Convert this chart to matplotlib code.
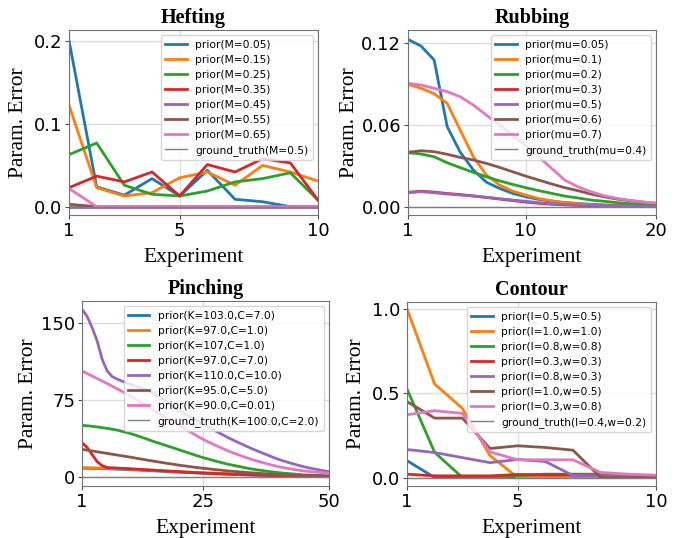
import matplotlib
matplotlib.use("Agg")
import matplotlib.pyplot as plt

# ---- Hefting (10 experiments) ----
heft_x = list(range(1, 11))
heft_labels = ["prior(M=0.05)", "prior(M=0.15)", "prior(M=0.25)", "prior(M=0.35)",
               "prior(M=0.45)", "prior(M=0.55)", "prior(M=0.65)"]
heft_m005 = [0.201, 0.024, 0.014, 0.034, 0.013, 0.044, 0.009, 0.006, 0.0, 0.0]
heft_m015 = [0.123, 0.023, 0.013, 0.017, 0.035, 0.042, 0.026, 0.050, 0.042, 0.031]
heft_m025 = [0.063, 0.077, 0.026, 0.015, 0.013, 0.019, 0.030, 0.034, 0.041, 0.008]
heft_m035 = [0.023, 0.037, 0.030, 0.042, 0.013, 0.051, 0.042, 0.058, 0.053, 0.008]
heft_m045 = [0.0, 0.0, 0.0, 0.0, 0.0, 0.0, 0.0, 0.0, 0.0, 0.0]
heft_m055 = [0.003, 0.0, 0.0, 0.0, 0.0, 0.0, 0.0, 0.0, 0.0, 0.0]
heft_m065 = [0.022, 0.0, 0.0, 0.0, 0.0, 0.0, 0.0, 0.0, 0.0, 0.0]
heft_gt_label = "ground_truth(M=0.5)"

# ---- Rubbing (20 experiments) ----
rub_x = list(range(1, 21))
rub_labels = ["prior(mu=0.05)", "prior(mu=0.1)", "prior(mu=0.2)", "prior(mu=0.3)",
              "prior(mu=0.5)", "prior(mu=0.6)", "prior(mu=0.7)"]
rub_mu005 = [0.1229, 0.118, 0.1078, 0.0588, 0.040, 0.027, 0.018, 0.0135, 0.0098, 0.0073,
             0.0054, 0.004, 0.003, 0.0024, 0.0018, 0.0013, 0.001, 0.0007, 0.0005, 0.0003]
rub_mu01 = [0.0899, 0.087, 0.083, 0.0759, 0.0563, 0.0367, 0.0233, 0.016, 0.0115, 0.0086,
            0.006, 0.0044, 0.003, 0.0022, 0.0015, 0.0011, 0.0008, 0.0006, 0.0004, 0.0003]
rub_mu02 = [0.0397, 0.0387, 0.0367, 0.0323, 0.0287, 0.0252, 0.022, 0.019, 0.0164, 0.014,
            0.0118, 0.0098, 0.0078, 0.0064, 0.0049, 0.004, 0.003, 0.0022, 0.0017, 0.0012]
rub_mu03 = [0.0106, 0.0113, 0.0107, 0.0097, 0.0089, 0.0079, 0.0068, 0.0056, 0.0045, 0.0034,
            0.0025, 0.0018, 0.0013, 0.0009, 0.0007, 0.0005, 0.0004, 0.0003, 0.0002, 0.0002]
rub_mu05 = [0.0103, 0.011, 0.0103, 0.0093, 0.0086, 0.0078, 0.0069, 0.0059, 0.0049, 0.004,
            0.003, 0.0022, 0.0017, 0.0012, 0.001, 0.0008, 0.0006, 0.0005, 0.0004, 0.0003]
rub_mu06 = [0.040, 0.0411, 0.0404, 0.0385, 0.0362, 0.0343, 0.0318, 0.0289, 0.0257, 0.0225,
            0.0196, 0.0167, 0.014, 0.0118, 0.0093, 0.0073, 0.0056, 0.0044, 0.0034, 0.0024]
rub_mu07 = [0.0906, 0.0894, 0.087, 0.0845, 0.0808, 0.0747, 0.0673, 0.060, 0.0527, 0.0453,
            0.0367, 0.0282, 0.0196, 0.0147, 0.011, 0.0081, 0.0061, 0.0047, 0.0034, 0.0027]
rub_gt_label = "ground_truth(mu=0.4)"

# ---- Pinching (50 experiments) ----
pinch_x = list(range(1, 51))
pinch_labels = ["prior(K=103.0,C=7.0)", "prior(K=97.0,C=1.0)", "prior(K=107,C=1.0)",
                "prior(K=97.0,C=7.0)", "prior(K=110.0,C=10.0)", "prior(K=95.0,C=5.0)",
                "prior(K=90.0,C=0.01)"]
pinch_k103 = [8.6, 8.5, 8.4, 8.3, 8.2, 8.0, 7.8, 7.6, 7.4, 7.2,
              7.0, 6.8, 6.5, 6.3, 6.0, 5.8, 5.5, 5.3, 5.0, 4.8,
              4.5, 4.3, 4.0, 3.8, 3.6, 3.4, 3.2, 3.0, 2.8, 2.6,
              2.4, 2.3, 2.1, 2.0, 1.8, 1.7, 1.6, 1.5, 1.4, 1.3,
              1.2, 1.1, 1.0, 0.9, 0.8, 0.75, 0.7, 0.6, 0.55, 0.5]
pinch_k97c1 = [9.1, 9.0, 8.9, 8.8, 8.7, 8.5, 8.3, 8.1, 7.9, 7.7,
               7.5, 7.3, 7.0, 6.8, 6.5, 6.3, 6.0, 5.8, 5.5, 5.3,
               5.0, 4.8, 4.5, 4.3, 4.1, 3.9, 3.7, 3.5, 3.3, 3.1,
               2.9, 2.8, 2.6, 2.5, 2.3, 2.2, 2.1, 2.0, 1.9, 1.8,
               1.7, 1.6, 1.5, 1.4, 1.3, 1.25, 1.2, 1.1, 1.05, 1.0]
pinch_k107 = [50.4, 50.0, 49.5, 48.9, 48.2, 47.4, 46.6, 45.7, 44.5, 43.3,
              41.8, 40.2, 38.5, 36.8, 35.0, 33.4, 31.8, 30.2, 28.6, 27.0,
              25.3, 23.7, 22.1, 20.5, 18.9, 17.6, 16.2, 14.9, 13.6, 12.4,
              11.4, 10.4, 9.4, 8.4, 7.5, 6.8, 6.1, 5.4, 4.8, 4.2,
              3.7, 3.3, 2.9, 2.4, 2.0, 1.8, 1.6, 1.4, 1.2, 1.0]
pinch_k97c7 = [33.5, 29.0, 22.0, 15.0, 11.0, 9.2, 8.9, 8.7, 8.4, 8.2,
               7.9, 7.6, 7.3, 7.0, 6.7, 6.4, 6.1, 5.8, 5.5, 5.2,
               4.9, 4.6, 4.4, 4.1, 3.9, 3.7, 3.5, 3.3, 3.1, 2.9,
               2.7, 2.5, 2.3, 2.2, 2.0, 1.9, 1.8, 1.6, 1.5, 1.4,
               1.3, 1.2, 1.1, 1.0, 0.9, 0.9, 0.8, 0.7, 0.7, 0.6]
pinch_k110 = [163.7, 157.0, 146.0, 133.0, 115.0, 103.5, 98.0, 95.5, 93.5, 91.5,
              89.8, 88.0, 86.3, 84.5, 82.5, 79.5, 76.0, 72.5, 69.0, 66.0,
              63.0, 60.0, 57.0, 54.5, 51.5, 49.0, 46.3, 43.6, 41.0, 38.4,
              36.0, 33.7, 31.4, 29.2, 27.0, 25.0, 23.0, 21.0, 19.0, 17.2,
              15.6, 14.1, 12.7, 11.3, 10.0, 8.9, 7.9, 6.9, 6.0, 5.2]
pinch_k95 = [27.0, 26.2, 25.4, 24.6, 23.8, 23.0, 22.2, 21.4, 20.6, 19.8,
             19.0, 18.1, 17.3, 16.4, 15.6, 14.8, 14.0, 13.2, 12.5, 11.7,
             11.0, 10.4, 9.7, 9.1, 8.5, 8.0, 7.4, 6.9, 6.4, 5.9,
             5.5, 5.1, 4.7, 4.3, 3.9, 3.6, 3.2, 2.9, 2.6, 2.3,
             2.1, 1.9, 1.7, 1.5, 1.3, 1.2, 1.1, 0.9, 0.8, 0.7]
pinch_k90 = [103.5, 101.0, 98.6, 96.2, 93.7, 91.2, 88.6, 86.0, 83.4, 80.7,
             77.8, 74.9, 72.0, 69.0, 66.0, 63.0, 60.0, 57.2, 54.3, 51.4,
             48.4, 45.4, 42.5, 39.6, 36.8, 34.4, 32.1, 29.8, 27.6, 25.4,
             23.5, 21.7, 19.9, 18.2, 16.6, 15.2, 13.8, 12.5, 11.2, 10.0,
             9.1, 8.2, 7.4, 6.6, 5.9, 5.4, 4.9, 4.4, 4.0, 3.6]
pinch_gt_label = "ground_truth(K=100.0,C=2.0)"

# ---- Contour (10 experiments) ----
cont_x = list(range(1, 11))
cont_labels = ["prior(l=0.5,w=0.5)", "prior(l=1.0,w=1.0)", "prior(l=0.8,w=0.8)",
               "prior(l=0.3,w=0.3)", "prior(l=0.8,w=0.3)", "prior(l=1.0,w=0.5)",
               "prior(l=0.3,w=0.8)"]
cont_a = [0.10, 0.0, 0.0, 0.0, 0.0, 0.0, 0.0, 0.0, 0.0, 0.0]
cont_b = [1.0, 0.554, 0.41, 0.13, 0.0, 0.0, 0.0, 0.0, 0.0, 0.0]
cont_c = [0.525, 0.149, 0.0, 0.005, 0.012, 0.02, 0.02, 0.02, 0.005, 0.005]
cont_d = [0.02, 0.01, 0.01, 0.01, 0.018, 0.016, 0.016, 0.01, 0.006, 0.006]
cont_e = [0.166, 0.148, 0.118, 0.088, 0.107, 0.095, 0.012, 0.01, 0.01, 0.01]
cont_f = [0.45, 0.352, 0.352, 0.172, 0.188, 0.178, 0.162, 0.0, 0.0, 0.0]
cont_g = [0.372, 0.396, 0.38, 0.152, 0.105, 0.105, 0.105, 0.03, 0.02, 0.014]
cont_gt_label = "ground_truth(l=0.4,w=0.2)"

colors = ["#1f77b4", "#ff7f0e", "#2ca02c", "#d62728", "#9467bd", "#8c564b", "#e377c2"]
SERIF = "Liberation Serif"

fig = plt.figure(figsize=(6.86, 5.38), dpi=100)


def panel(rect, title, x, series, labels, gt_label, xticks, yticks, ylim, yfmt, ypad):
    ax = fig.add_axes(rect)
    for ys, lab, c in zip(series, labels, colors):
        ax.plot(x, ys, color=c, lw=2, label=lab)
    ax.plot(x, [0] * len(x), color="#7f7f7f", lw=1, label=gt_label)
    ax.set_xlim(x[0], x[-1])
    ax.set_ylim(*ylim)
    ax.set_xticks(xticks)
    ax.set_yticks(yticks)
    ax.set_yticklabels([yfmt.format(v) for v in yticks])
    ax.tick_params(labelsize=13, length=3, color="0.3", pad=2)
    ax.grid(color="#dddddd", lw=1)
    for s in ax.spines.values():
        s.set_color("0.45")
    ax.set_title(title, family=SERIF, fontweight="bold", fontsize=14.5, pad=5)
    ax.set_xlabel("Experiment", family=SERIF, fontsize=15.5, labelpad=6)
    ax.set_ylabel("Param. Error", family=SERIF, fontsize=15.5, labelpad=ypad)
    ax.legend(loc="upper right", fontsize=7.7, labelspacing=0.47, borderaxespad=0.5,
              handlelength=2.0, framealpha=0.8)
    return ax


panel([0.1006, 0.6004, 0.363, 0.3438], "Hefting", heft_x,
      [heft_m005, heft_m015, heft_m025, heft_m035, heft_m045, heft_m055, heft_m065],
      heft_labels, heft_gt_label, [1, 5, 10], [0.0, 0.1, 0.2], (-0.01, 0.2137), "{:.1f}", 4)
panel([0.5948, 0.6004, 0.3615, 0.3438], "Rubbing", rub_x,
      [rub_mu005, rub_mu01, rub_mu02, rub_mu03, rub_mu05, rub_mu06, rub_mu07],
      rub_labels, rub_gt_label, [1, 10, 20], [0.0, 0.06, 0.12], (-0.0061, 0.1298), "{:.2f}", 1.5)
panel([0.1195, 0.0967, 0.360, 0.3438], "Pinching", pinch_x,
      [pinch_k103, pinch_k97c1, pinch_k107, pinch_k97c7, pinch_k110, pinch_k95, pinch_k90],
      pinch_labels, pinch_gt_label, [1, 25, 50], [0, 75, 150], (-8.8, 171.8), "{:.0f}", 2)
panel([0.5933, 0.0967, 0.363, 0.342], "Contour", cont_x,
      [cont_a, cont_b, cont_c, cont_d, cont_e, cont_f, cont_g],
      cont_labels, cont_gt_label, [1, 5, 10], [0.0, 0.5, 1.0], (-0.05, 1.04), "{:.1f}", 4)

fig.savefig("out.png", dpi=100)
